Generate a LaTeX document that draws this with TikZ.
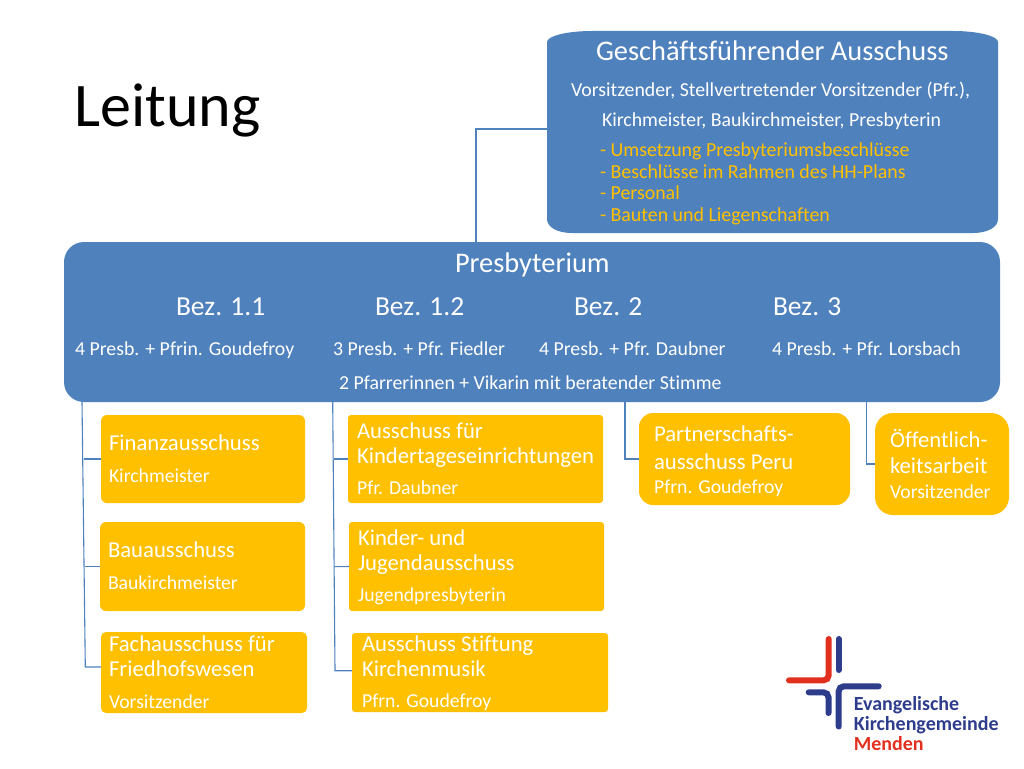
\documentclass[tikz,border=0pt]{standalone}
\usepackage{fontspec}
\setmainfont{Carlito}[Ligatures=NoCommon]
\definecolor{kblue}{HTML}{4F81BD}
\definecolor{korange}{HTML}{FFC000}
\definecolor{logoblue}{HTML}{2E3C8C}
\definecolor{logored}{HTML}{E2301F}
\newcommand{\fs}[1]{\fontsize{#1}{#1}\selectfont}
\tikzset{
  txt/.style={anchor=base west,inner sep=0pt,outer sep=0pt,text=white,yshift=-0.8pt},
  ttitle/.style={txt,text=black,font=\fs{62}},
  thead/.style={txt,font=\fs{28.4}},
  tbez/.style={txt,font=\fs{27.5}},
  tbody/.style={txt,font=\fs{19.8}},
  tyell/.style={txt,text=korange,font=\fs{19.9}},
  tcom/.style={txt,font=\fs{22.7}},
  tsub/.style={txt,font=\fs{19.7}},
  combox/.style={fill=korange,inner sep=0pt,outer sep=0pt,rounded corners=#1},
  conn/.style={draw=kblue,line width=1.1pt},
  logobar/.style={line width=6pt,line cap=round,rounded corners=5pt},
  tlogo/.style={anchor=base west,inner sep=0pt,font=\fs{20}\bfseries,text=logoblue},
}
\begin{document}
\begin{tikzpicture}[x=1pt,y=-1pt]
\useasboundingbox (0,0) rectangle (1024,768);
% main boxes
\fill[kblue] (547,42) .. controls (547,36) and (567,31) .. (592,31) -- (953,31)
  .. controls (978,31) and (998,36) .. (998,42) -- (998,219)
  .. controls (998,227) and (988,233) .. (973,233) -- (572,233)
  .. controls (557,233) and (547,227) .. (547,219) -- cycle;
\node[minimum width=451pt,minimum height=202pt,inner sep=0pt,outer sep=0pt] (gf) at (772.5,132) {};
\node[fill=kblue,rounded corners=20pt,minimum width=936pt,minimum height=160pt,inner sep=0pt,outer sep=0pt] (pres) at (532,322) {};
% committee boxes
\node[combox=6pt,minimum width=204pt,minimum height=88pt] (fin) at (203,459) {};
\node[combox=6pt,minimum width=205pt,minimum height=89pt] (bau) at (202.5,566.5) {};
\node[combox=5pt,minimum width=206pt,minimum height=81pt] (fach) at (204,672.5) {};
\node[combox=3pt,minimum width=255pt,minimum height=88pt] (kita) at (475.5,459) {};
\node[combox=3pt,minimum width=255pt,minimum height=89pt] (kij) at (476.5,566.5) {};
\node[combox=3pt,minimum width=256pt,minimum height=79pt] (stift) at (480,672.5) {};
\node[combox=14pt,minimum width=211pt,minimum height=92pt] (peru) at (744.5,459) {};
\node[combox=18pt,minimum width=134pt,minimum height=102pt] (oeff) at (942,464) {};
% connectors
\coordinate (top) at (476,129);
\draw[conn] (pres.north -| top) -- (top) -- (top -| gf.west);
\coordinate (a1) at (82,402); \coordinate (a2) at (84,459); \coordinate (a3) at (85,566.5); \coordinate (a4) at (85.3,667);
\draw[conn] (a1) -- (a4) -- (a4 -| fach.west);
\draw[conn] (a2) -- (fin.west);
\draw[conn] (a3) -- (bau.west);
\coordinate (b1) at (332.7,402); \coordinate (b2) at (333.5,459); \coordinate (b3) at (334.3,566.7); \coordinate (b4) at (335,670.7);
\draw[conn] (b1) -- (b4) -- (b4 -| stift.west);
\draw[conn] (b2) -- (kita.west);
\draw[conn] (b3) -- (kij.west);
\coordinate (c1) at (625,402); \coordinate (c2) at (625,459);
\draw[conn] (c1) -- (c2) -- (peru.west);
\coordinate (d1) at (866.7,402); \coordinate (d2) at (866.7,464);
\draw[conn] (d1) -- (d2) -- (oeff.west);
% texts
\node[ttitle] (title) at (74.5,125.5) {Leitung};
\node[thead] (g1) at (596,60) {Geschäftsführender Ausschuss};
\node[tbody] (g2) at (571,96) {Vorsitzender, Stellvertretender Vorsitzender (Pfr.),};
\node[tbody] (g3) at (602,126) {Kirchmeister, Baukirchmeister, Presbyterin};
\node[tyell] (g4) at (600,156) {- Umsetzung Presbyteriumsbeschlüsse};
\node[tyell] (g5) at (600,177.5) {- Beschlüsse im Rahmen des HH-Plans};
\node[tyell] (g6) at (600,199) {- Personal};
\node[tyell] (g7) at (600,220.5) {- Bauten und Liegenschaften};
\node[thead] (p0) at (455,272) {Presbyterium};
\node[tbez] (p1) at (176,314.5) {Bez. 1.1};
\node[tbez] (p2) at (375,314.5) {Bez. 1.2};
\node[tbez] (p3) at (574,314.5) {Bez. 2};
\node[tbez] (p4) at (773,314.5) {Bez. 3};
\node[tbody] (q1) at (75,355) {4 Presb. + Pfrin. Goudefroy};
\node[tbody] (q2) at (333,355) {3 Presb. + Pfr. Fiedler};
\node[tbody] (q3) at (539,355) {4 Presb. + Pfr. Daubner};
\node[tbody] (q4) at (772,355) {4 Presb. + Pfr. Lorsbach};
\node[tbody] (q5) at (339,389) {2 Pfarrerinnen + Vikarin mit beratender Stimme};
\node[tcom] (f1) at (109,450) {Finanzausschuss};
\node[tsub] (f2) at (109,482) {Kirchmeister};
\node[tcom] (u1) at (108,557) {Bauausschuss};
\node[tsub] (u2) at (108,589) {Baukirchmeister};
\node[tcom] (h1) at (109,651) {Fachausschuss für};
\node[tcom] (h2) at (109,676) {Friedhofswesen};
\node[tsub] (h3) at (109,708) {Vorsitzender};
\node[tcom] (k1) at (357,438) {Ausschuss für};
\node[tcom] (k2) at (357,463) {Kindertageseinrichtungen};
\node[tsub] (k3) at (357,494) {Pfr. Daubner};
\node[tcom] (j1) at (358,545) {Kinder- und};
\node[tcom] (j2) at (358,570) {Jugendausschuss};
\node[tsub] (j3) at (358,601) {Jugendpresbyterin};
\node[tcom] (s1) at (362,651) {Ausschuss Stiftung};
\node[tcom] (s2) at (362,676) {Kirchenmusik};
\node[tsub] (s3) at (362,707) {Pfrn. Goudefroy};
\node[tcom] (r1) at (654,441) {Partnerschafts-};
\node[tcom] (r2) at (654,469) {ausschuss Peru};
\node[tsub] (r3) at (654,493) {Pfrn. Goudefroy};
\node[tcom] (o1) at (890,447) {Öffentlich-};
\node[tcom] (o2) at (890,473) {keitsarbeit};
\node[tsub] (o3) at (890,498) {Vorsitzender};
% logo
\draw[logobar,draw=logored] (828.7,639) -- (828.7,680.3) -- (789,680.3);
\draw[logobar,draw=logoblue] (838.7,639) -- (838.7,670);
\draw[logobar,draw=logoblue] (808.7,692.3) -- (828.5,692.3) -- (828.5,713);
\draw[logobar,draw=logoblue] (878.7,686.3) -- (838.7,686.3) -- (838.7,726.5);
\node[tlogo] (l1) at (853.7,710.7) {Evangelische};
\node[tlogo] (l2) at (853.7,730) {Kirchengemeinde};
\node[tlogo,text=logored] (l3) at (853.7,750) {Menden};
\end{tikzpicture}
\end{document}
